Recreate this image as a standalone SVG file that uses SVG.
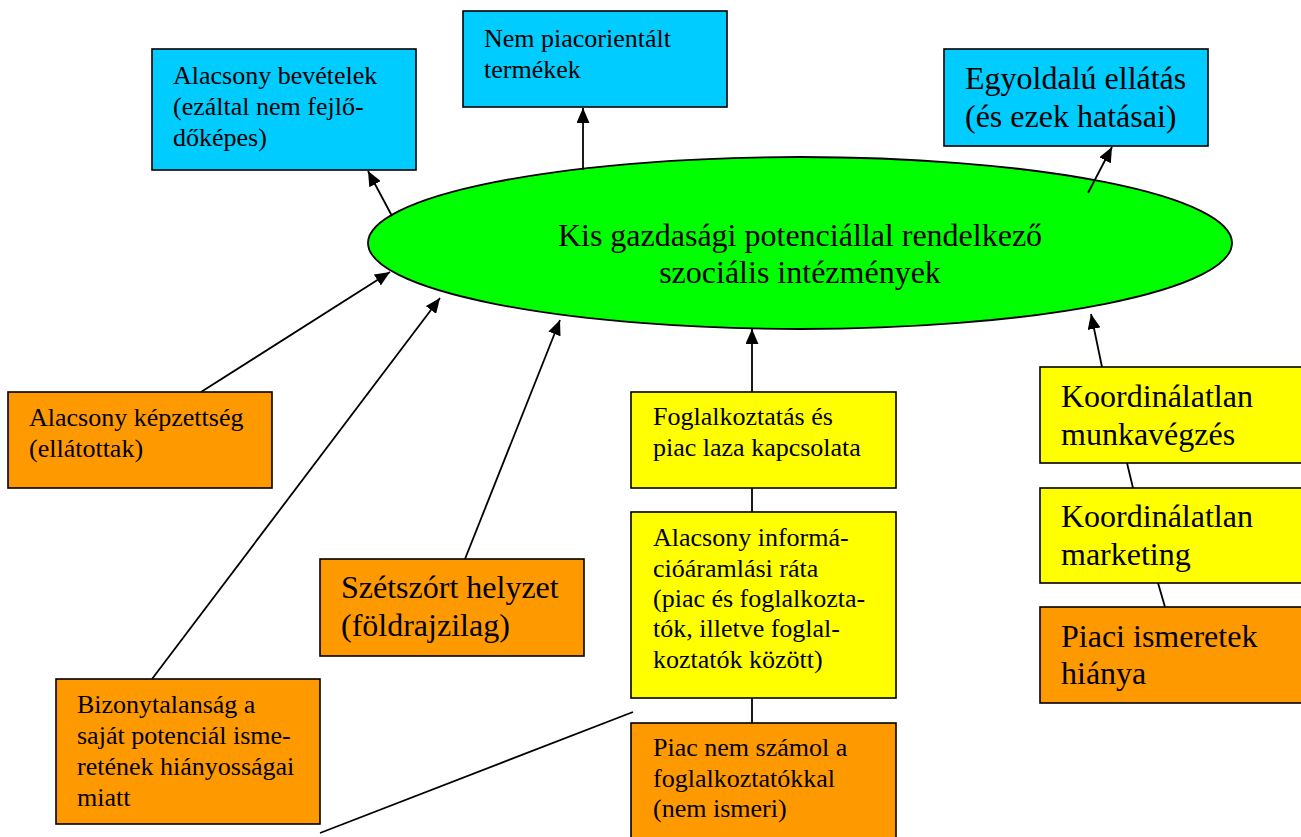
<svg xmlns="http://www.w3.org/2000/svg" width="1301" height="837" viewBox="0 0 1301 837">
<style>
.box{stroke:#000;stroke-width:1.6}
.cy{fill:#00CCFF}.or{fill:#FF9900}.ye{fill:#FFFF00}
.t{font-family:"Liberation Serif","Times New Roman",serif;fill:#000}
.s{font-size:26px}.l{font-size:32px}
.c{stroke:#000;stroke-width:1.8;fill:none}
</style>
<defs>
<marker id="ah" markerUnits="userSpaceOnUse" markerWidth="15" markerHeight="13" viewBox="0 0 15 13" refX="15" refY="6.5" orient="auto">
<path d="M0,0 L15,6.5 L0,13 z" fill="#000"/>
</marker>
</defs>
<rect width="1301" height="837" fill="#fff"/>
<g id="center">
<ellipse cx="800" cy="243" rx="432" ry="86" fill="#00FF00" stroke="#000" stroke-width="1.8"/>
<text class="t l" text-anchor="middle"><tspan x="800" y="246">Kis gazdasági potenciállal rendelkező</tspan><tspan x="800" y="283">szociális intézmények</tspan></text>
</g>
<g id="n-bevetelek">
<rect class="box cy" x="152" y="49" width="264" height="121"/>
<text class="t s"><tspan x="173" y="84">Alacsony bevételek</tspan><tspan x="173" y="115">(ezáltal nem fejlő-</tspan><tspan x="173" y="146">dőképes)</tspan></text>
</g>
<g id="n-nempiac">
<rect class="box cy" x="463" y="11" width="264" height="96"/>
<text class="t s"><tspan x="484" y="47">Nem piacorientált</tspan><tspan x="484" y="78">termékek</tspan></text>
</g>
<g id="n-egyoldalu">
<rect class="box cy" x="944" y="49" width="264" height="97"/>
<text class="t l"><tspan x="965" y="89">Egyoldalú ellátás</tspan><tspan x="965" y="127">(és ezek hatásai)</tspan></text>
</g>
<g id="n-kepzettseg">
<rect class="box or" x="8" y="392" width="264" height="96"/>
<text class="t s"><tspan x="29" y="426">Alacsony képzettség</tspan><tspan x="29" y="457">(ellátottak)</tspan></text>
</g>
<g id="n-szetszort">
<rect class="box or" x="320" y="559" width="264" height="97"/>
<text class="t l"><tspan x="341" y="598">Szétszórt helyzet</tspan><tspan x="341" y="636">(földrajzilag)</tspan></text>
</g>
<g id="n-bizonytalansag">
<rect class="box or" x="56" y="679" width="264" height="145"/>
<text class="t s"><tspan x="77" y="713">Bizonytalanság a</tspan><tspan x="77" y="744">saját potenciál isme-</tspan><tspan x="77" y="775">retének hiányosságai</tspan><tspan x="77" y="806">miatt</tspan></text>
</g>
<g id="n-foglalkoztatas">
<rect class="box ye" x="631" y="392" width="265" height="96"/>
<text class="t s"><tspan x="653" y="425">Foglalkoztatás és</tspan><tspan x="653" y="456">piac laza kapcsolata</tspan></text>
</g>
<g id="n-informacio">
<rect class="box ye" x="631" y="512" width="265" height="186"/>
<text class="t s"><tspan x="653" y="546">Alacsony informá-</tspan><tspan x="653" y="577">cióáramlási ráta</tspan><tspan x="653" y="607">(piac és foglalkozta-</tspan><tspan x="653" y="637">tók, illetve foglal-</tspan><tspan x="653" y="668">koztatók között)</tspan></text>
</g>
<g id="n-piacnem">
<rect class="box or" x="631" y="723" width="265" height="130"/>
<text class="t s"><tspan x="653" y="756">Piac nem számol a</tspan><tspan x="653" y="787">foglalkoztatókkal</tspan><tspan x="653" y="817">(nem ismeri)</tspan></text>
</g>
<g id="n-munkavegzes">
<rect class="box ye" x="1040" y="367" width="270" height="96"/>
<text class="t l"><tspan x="1061" y="407">Koordinálatlan</tspan><tspan x="1061" y="445">munkavégzés</tspan></text>
</g>
<g id="n-marketing">
<rect class="box ye" x="1040" y="488" width="270" height="95"/>
<text class="t l"><tspan x="1061" y="527">Koordinálatlan</tspan><tspan x="1061" y="565">marketing</tspan></text>
</g>
<g id="n-piaci">
<rect class="box or" x="1040" y="607" width="270" height="96"/>
<text class="t l"><tspan x="1061" y="647">Piaci ismeretek</tspan><tspan x="1061" y="684">hiánya</tspan></text>
</g>
<g id="connectors">
<line class="c" x1="392" y1="216" x2="368" y2="171" marker-end="url(#ah)"/>
<line class="c" x1="583" y1="170" x2="583" y2="108" marker-end="url(#ah)"/>
<line class="c" x1="1088" y1="193" x2="1112" y2="147" marker-end="url(#ah)"/>
<line class="c" x1="201" y1="392" x2="390" y2="272" marker-end="url(#ah)"/>
<line class="c" x1="152" y1="679" x2="440" y2="298" marker-end="url(#ah)"/>
<line class="c" x1="465" y1="559" x2="560" y2="320" marker-end="url(#ah)"/>
<line class="c" x1="752" y1="392" x2="752" y2="329" marker-end="url(#ah)"/>
<line class="c" x1="1102" y1="367" x2="1091" y2="314" marker-end="url(#ah)"/>
<line class="c" x1="752" y1="488" x2="752" y2="512"/>
<line class="c" x1="752" y1="698" x2="752" y2="723"/>
<line class="c" x1="1127" y1="463" x2="1133" y2="488"/>
<line class="c" x1="1158" y1="583" x2="1165" y2="607"/>
<line class="c" x1="320" y1="833" x2="633" y2="712"/>
</g>
</svg>
